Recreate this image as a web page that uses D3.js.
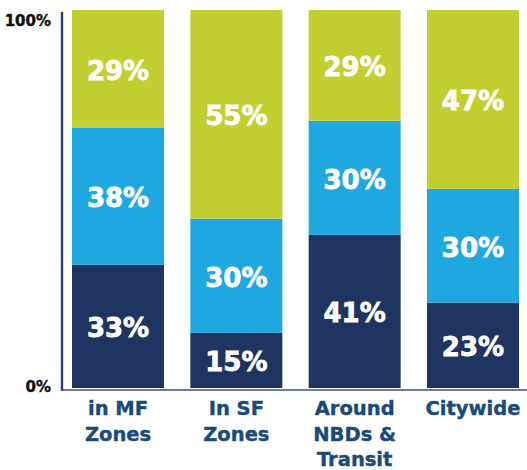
<!DOCTYPE html>
<html>
<head>
<meta charset="utf-8">
<script src="https://cdn.jsdelivr.net/npm/d3@7"></script>
<style>
  html, body { margin: 0; padding: 0; background: #ffffff; }
  svg { display: block; }
</style>
</head>
<body>
<svg id="chart" width="527" height="470"></svg>
<script>
// ---- data ----
const categories = ["in MF Zones", "In SF Zones", "Around NBDs & Transit", "Citywide"];
const categoryLines = [["in MF", "Zones"], ["In SF", "Zones"], ["Around", "NBDs &", "Transit"], ["Citywide"]];
const seriesNames = ["bottom", "middle", "top"];
// segment shares as drawn (bottom: navy, middle: blue, top: green)
const bottomValues = [32.6, 14.6, 40.5, 22.6];
const middleValues = [36.2, 30.2, 30.2, 30.1];
const topValues    = [31.2, 55.2, 29.3, 47.3];
// printed labels
const bottomLabels = ["33%", "15%", "41%", "23%"];
const middleLabels = ["38%", "30%", "30%", "30%"];
const topLabels    = ["29%", "55%", "29%", "47%"];
const yTickValues = [0, 100];
const yTickLabels = ["0%", "100%"];

const colors = { bottom: "#1e3461", middle: "#1fa8df", top: "#c2cf30" };
const font = "'DejaVu Sans', sans-serif";

const rows = categories.map((c, i) => ({
  cat: c, bottom: bottomValues[i], middle: middleValues[i], top: topValues[i],
  labels: { bottom: bottomLabels[i], middle: middleLabels[i], top: topLabels[i] }
}));

const svg = d3.select("#chart");

const x = d3.scaleBand().domain(categories).range([59, 532])
  .paddingInner(0.2225).paddingOuter(0.11);
const y = d3.scaleLinear().domain([0, 100]).range([388, 10]);

const stack = d3.stack().keys(seriesNames);
const series = stack(rows);

const g = svg.append("g");
series.forEach(s => {
  const key = s.key;
  g.selectAll(null).data(s).enter().append("rect")
    .attr("x", d => x(d.data.cat))
    .attr("width", x.bandwidth())
    .attr("y", d => y(d[1]))
    .attr("height", d => y(d[0]) - y(d[1]))
    .attr("fill", colors[key]);
  g.selectAll(null).data(s).enter().append("text")
    .attr("x", d => x(d.data.cat) + x.bandwidth() / 2)
    .attr("y", d => (y(d[0]) + y(d[1])) / 2)
    .attr("dy", "0.42em")
    .attr("text-anchor", "middle")
    .attr("fill", "#ffffff")
    .attr("stroke", "#ffffff")
    .attr("stroke-width", 0.8)
    .attr("font-family", font)
    .attr("font-weight", "bold")
    .attr("font-size", 26)
    .text(d => d.data.labels[key]);
});

// axes lines
svg.append("line")
  .attr("x1", 62).attr("x2", 62)
  .attr("y1", y(100) + 2).attr("y2", y(0) + 3)
  .attr("stroke", "#2b3e6a").attr("stroke-width", 2.4);
svg.append("line")
  .attr("x1", 61).attr("x2", 527)
  .attr("y1", y(0) + 2).attr("y2", y(0) + 2)
  .attr("stroke", "#3d5078").attr("stroke-width", 1.4);

// y tick labels
const yAxis = d3.axisLeft(y).tickValues(yTickValues).tickSize(0)
  .tickFormat((d, i) => yTickLabels[i]);
const ya = svg.append("g").attr("transform", "translate(51,0)").call(yAxis);
ya.select(".domain").remove();
ya.selectAll("text")
  .attr("x", 0)
  .attr("dy", d => d === 0 ? "0.2em" : "1.0em")
  .attr("fill", "#111111")
  .attr("stroke", "#111111")
  .attr("stroke-width", 0.4)
  .attr("font-family", font)
  .attr("font-weight", "bold")
  .attr("font-size", 15);

// category labels
const xAxis = d3.axisBottom(x).tickSize(0).tickFormat("");
const xa = svg.append("g").attr("transform", "translate(0,391)").call(xAxis);
xa.select(".domain").remove();
xa.selectAll(".tick").each(function(d, i) {
  const t = d3.select(this).append("text")
    .attr("text-anchor", "middle")
    .attr("fill", "#1a4a7c")
    .attr("stroke", "#1a4a7c")
    .attr("stroke-width", 0.4)
    .attr("font-family", font)
    .attr("font-weight", "bold")
    .attr("font-size", 19.5);
  categoryLines[i].forEach((line, j) => {
    t.append("tspan").attr("x", 0).attr("y", 24 + j * 25.5).text(line);
  });
});
</script>
</body>
</html>
